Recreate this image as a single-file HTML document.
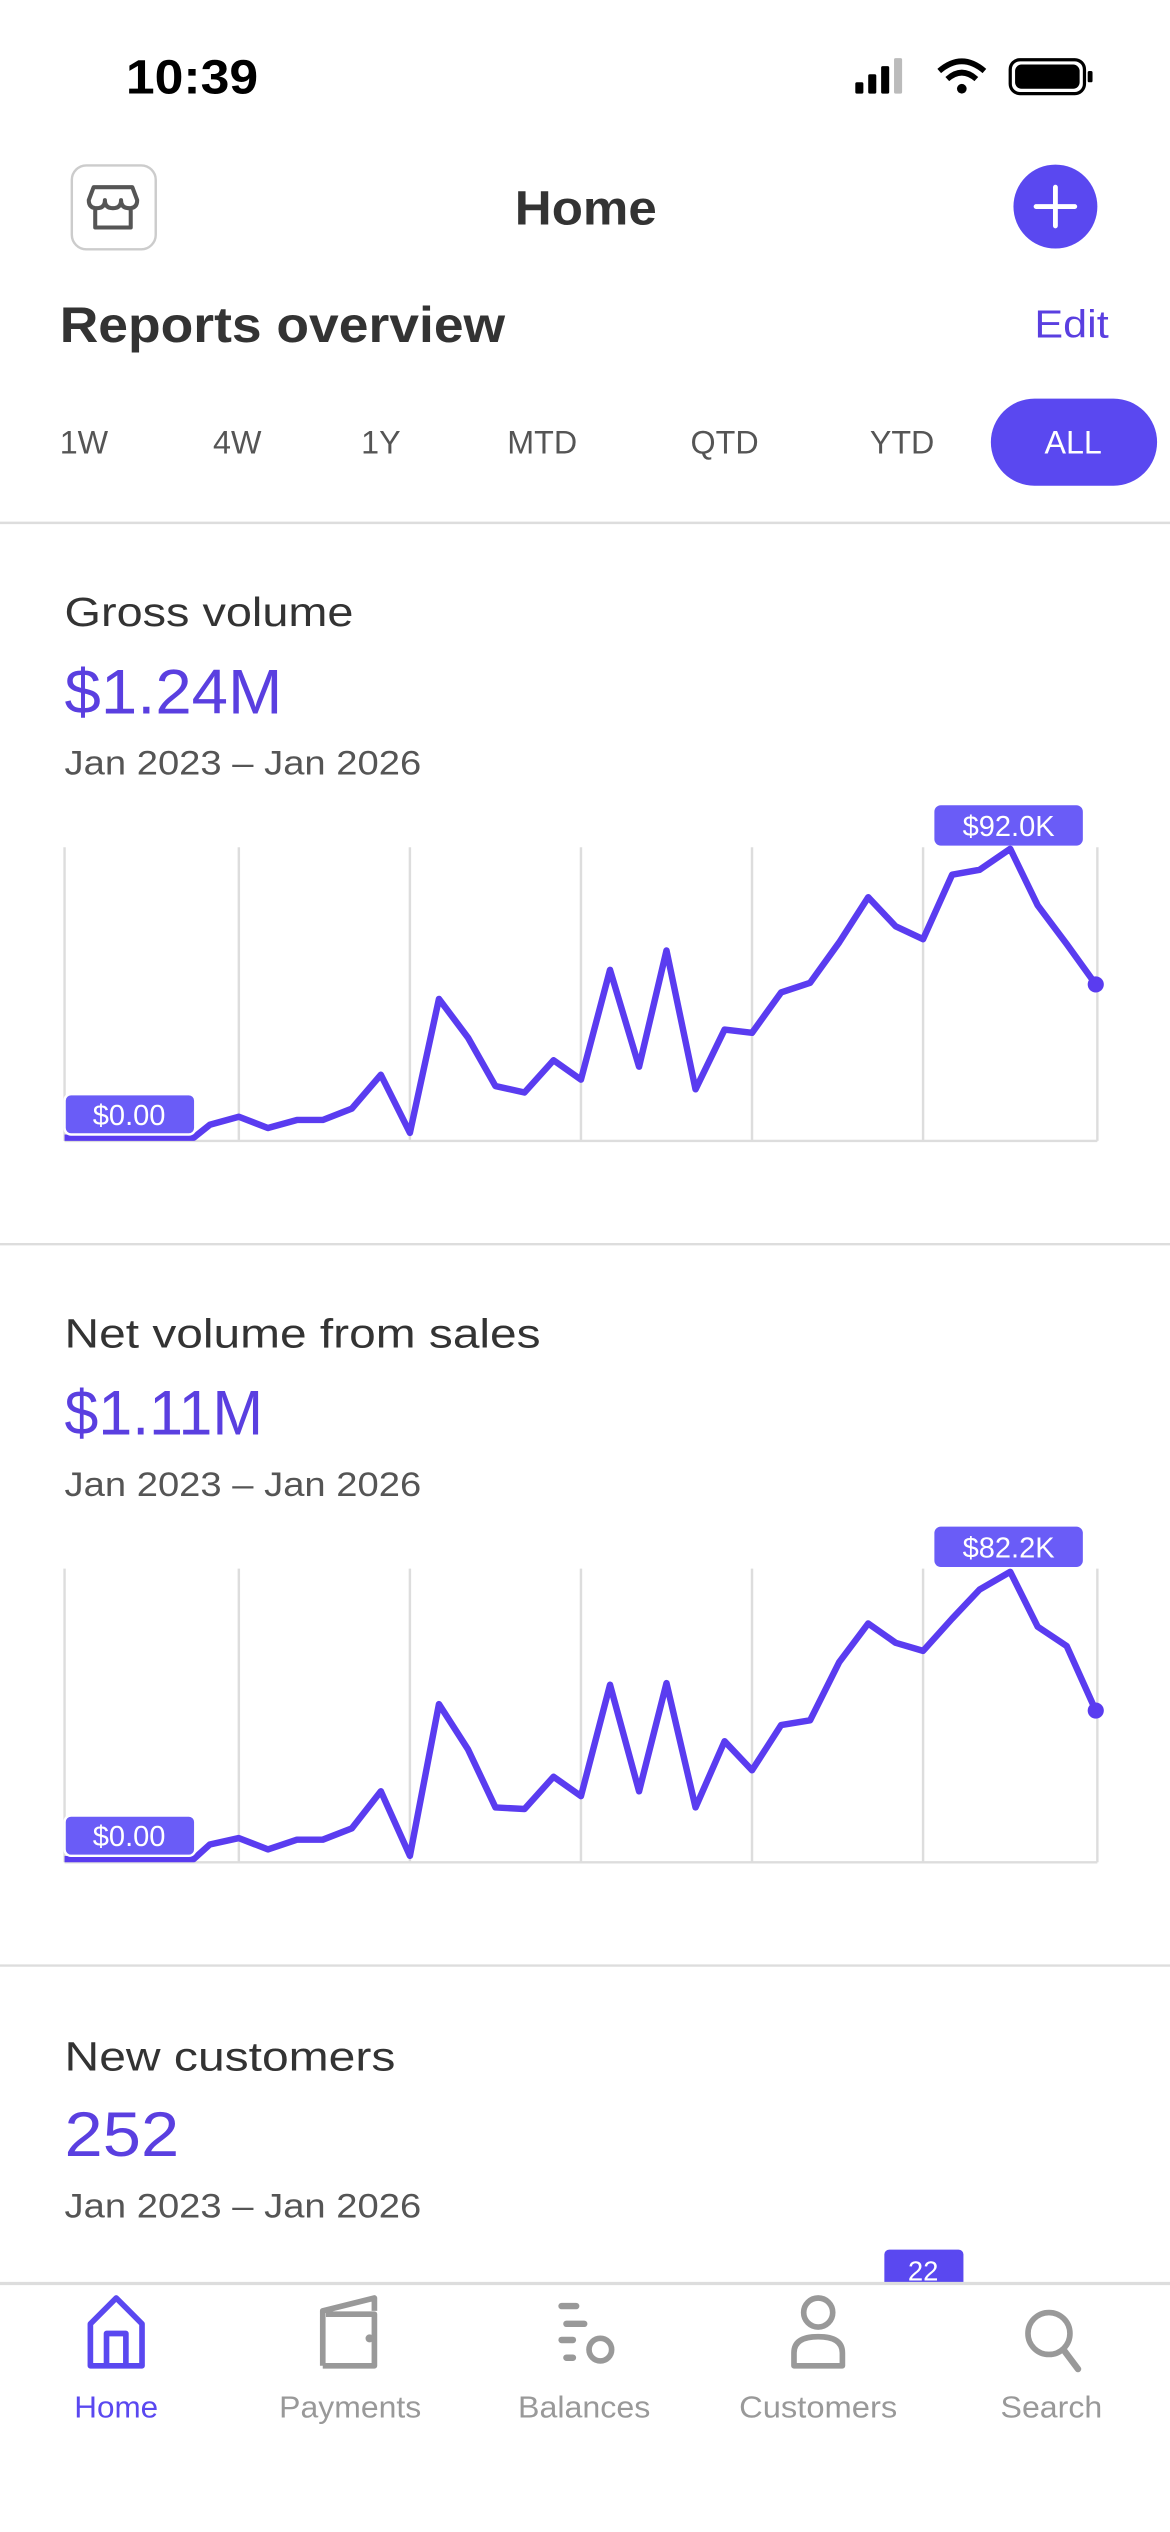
<!DOCTYPE html>
<html><head><meta charset="utf-8"><style>
html,body{margin:0;padding:0;background:#fff;}
svg{display:block;}
text{font-family:"Liberation Sans",sans-serif;}
</style></head><body>
<svg width="1170" height="2532" viewBox="0 0 725 1569" xmlns="http://www.w3.org/2000/svg">
<rect width="725" height="1569" fill="#fff"/>
<!-- status bar -->
<text x="78" y="58" font-size="30" font-weight="bold" fill="#000" textLength="82" lengthAdjust="spacingAndGlyphs">10:39</text>
<rect x="530" y="51" width="5" height="7" rx="1" fill="#000"/>
<rect x="538" y="46" width="5" height="12" rx="1" fill="#000"/>
<rect x="546" y="41" width="5" height="17" rx="1" fill="#000"/>
<rect x="554" y="36" width="5" height="22" rx="1" fill="#bbb"/>
<path d="M582 44 Q596 32 610 44" stroke="#000" stroke-width="3.5" fill="none"/>
<path d="M587 49 Q596 41 605 49" stroke="#000" stroke-width="3.5" fill="none"/>
<circle cx="596" cy="55" r="3" fill="#000"/>
<rect x="626" y="37" width="46" height="21" rx="6" fill="none" stroke="#000" stroke-width="2"/>
<rect x="629" y="40" width="40" height="15" rx="4" fill="#000"/>
<rect x="674" y="44" width="3" height="7" rx="1" fill="#000"/>
<!-- header -->
<rect x="44.5" y="102.5" width="52" height="52" rx="9" fill="#fff" stroke="#ccc" stroke-width="1.5"/>
<path d="M58 116 h24 l3 8 q0 5 -5 5 q-5 0 -5-5 q0 5 -5 5 q-5 0 -5-5 q0 5 -5 5 q-5 0 -5-5 z M59 129 v12 h22 v-12" stroke="#555" stroke-width="2.5" fill="none" stroke-linejoin="round"/>
<text x="319" y="139" font-size="30" font-weight="bold" fill="#333" textLength="88" lengthAdjust="spacingAndGlyphs">Home</text>
<circle cx="654" cy="128" r="26" fill="#5a48f0"/>
<path d="M654 116 v24 M642 128 h24" stroke="#fff" stroke-width="3" stroke-linecap="round"/>
<text x="37" y="212" font-size="31" font-weight="bold" fill="#333" textLength="276" lengthAdjust="spacingAndGlyphs">Reports overview</text>
<text x="641" y="209" font-size="24" fill="#5a3fe0" textLength="46" lengthAdjust="spacingAndGlyphs">Edit</text>
<!-- tabs -->
<g font-size="20" fill="#555" text-anchor="middle">
<text x="52" y="281">1W</text><text x="147" y="281">4W</text><text x="236" y="281">1Y</text>
<text x="336" y="281">MTD</text><text x="449" y="281">QTD</text><text x="559" y="281">YTD</text>
</g>
<rect x="614" y="247" width="103" height="54" rx="27" fill="#5a48f0"/>
<text x="665" y="281" font-size="20" fill="#fff" text-anchor="middle">ALL</text>
<line x1="0" y1="324" x2="725" y2="324" stroke="#ddd" stroke-width="1.5"/>
<!-- section 1 -->
<text x="40" y="388" font-size="25" font-weight="500" fill="#333" textLength="179" lengthAdjust="spacingAndGlyphs">Gross volume</text>
<text x="40" y="442" font-size="39" fill="#5a3fe0" textLength="135" lengthAdjust="spacingAndGlyphs">$1.24M</text>
<text x="40" y="480" font-size="21" fill="#555" textLength="221" lengthAdjust="spacingAndGlyphs">Jan 2023 – Jan 2026</text>
<g stroke="#ddd" stroke-width="1.5">
<line x1="40" y1="525" x2="40" y2="707"/><line x1="148" y1="525" x2="148" y2="707"/><line x1="254" y1="525" x2="254" y2="707"/><line x1="360" y1="525" x2="360" y2="707"/><line x1="466" y1="525" x2="466" y2="707"/><line x1="572" y1="525" x2="572" y2="707"/><line x1="680" y1="525" x2="680" y2="707"/>
<line x1="40" y1="707" x2="680" y2="707"/>
</g>
<polyline fill="none" stroke="#5a3cf0" stroke-width="4" stroke-linejoin="round" points="40,705 120,705 130,697 148,692 166,699 184,694 200,694 218,687 236,666 254,702 272,619 290,643 307,673 325,677 343,657 360,669 378,601 396,661 413,589 431,675 449,638 466,640 484,615 502,609 520,584 538,556 555,574 572,582 590,542 607,539 626,526 643,561 661,585 679,610"/>
<circle cx="679" cy="610" r="5" fill="#5a3cf0"/>
<rect x="579" y="499" width="92" height="25" rx="4" fill="#6a5cf7"/>
<text x="625" y="518" font-size="18" fill="#fff" text-anchor="middle">$92.0K</text>
<rect x="40" y="678" width="81" height="25" rx="4" fill="#6a5cf7" stroke="#fff" stroke-width="1.5"/>
<text x="80" y="697" font-size="18" fill="#fff" text-anchor="middle">$0.00</text>
<line x1="0" y1="771" x2="725" y2="771" stroke="#ddd" stroke-width="1.5"/>
<!-- section 2 -->
<text x="40" y="835" font-size="25" font-weight="500" fill="#333" textLength="295" lengthAdjust="spacingAndGlyphs">Net volume from sales</text>
<text x="40" y="889" font-size="39" fill="#5a3fe0" textLength="123" lengthAdjust="spacingAndGlyphs">$1.11M</text>
<text x="40" y="927" font-size="21" fill="#555" textLength="221" lengthAdjust="spacingAndGlyphs">Jan 2023 – Jan 2026</text>
<g stroke="#ddd" stroke-width="1.5">
<line x1="40" y1="972" x2="40" y2="1154"/><line x1="148" y1="972" x2="148" y2="1154"/><line x1="254" y1="972" x2="254" y2="1154"/><line x1="360" y1="972" x2="360" y2="1154"/><line x1="466" y1="972" x2="466" y2="1154"/><line x1="572" y1="972" x2="572" y2="1154"/><line x1="680" y1="972" x2="680" y2="1154"/>
<line x1="40" y1="1154" x2="680" y2="1154"/>
</g>
<polyline fill="none" stroke="#5a3cf0" stroke-width="4" stroke-linejoin="round" points="40,1152 120,1152 130,1143 148,1139 166,1146 184,1140 200,1140 218,1133 236,1110 254,1150 272,1056 290,1084 307,1120 325,1121 343,1101 360,1113 378,1044 396,1110 413,1043 431,1120 449,1079 466,1097 484,1069 502,1066 520,1030 538,1006 555,1018 572,1023 590,1003 607,985 626,974 643,1008 661,1020 679,1060"/>
<circle cx="679" cy="1060" r="5" fill="#5a3cf0"/>
<rect x="579" y="946" width="92" height="25" rx="4" fill="#6a5cf7"/>
<text x="625" y="965" font-size="18" fill="#fff" text-anchor="middle">$82.2K</text>
<rect x="40" y="1125" width="81" height="25" rx="4" fill="#6a5cf7" stroke="#fff" stroke-width="1.5"/>
<text x="80" y="1144" font-size="18" fill="#fff" text-anchor="middle">$0.00</text>
<line x1="0" y1="1218" x2="725" y2="1218" stroke="#ddd" stroke-width="1.5"/>
<!-- section 3 -->
<text x="40" y="1283" font-size="25" font-weight="500" fill="#333" textLength="205" lengthAdjust="spacingAndGlyphs">New customers</text>
<text x="40" y="1336" font-size="39" fill="#5a3fe0" textLength="71" lengthAdjust="spacingAndGlyphs">252</text>
<text x="40" y="1374" font-size="21" fill="#555" textLength="221" lengthAdjust="spacingAndGlyphs">Jan 2023 – Jan 2026</text>
<rect x="548" y="1394" width="49" height="24" rx="3" fill="#5a48f0"/>
<text x="572" y="1413" font-size="17" fill="#fff" text-anchor="middle">22</text>
<!-- tab bar -->
<rect x="0" y="1415" width="725" height="154" fill="#fff"/>
<line x1="0" y1="1415" x2="725" y2="1415" stroke="#ddd" stroke-width="2"/>
<path d="M56 1466 v-26 l16 -16 l16 16 v26 z M66 1466 v-20 h12 v20" stroke="#5a48f0" stroke-width="3.5" fill="none" stroke-linejoin="round"/>
<path d="M200 1466 v-34 l32 -8 v8 M202 1434 h30 v32 h-32" stroke="#999" stroke-width="3.5" fill="none" stroke-linejoin="round"/>
<circle cx="229" cy="1449" r="2.5" fill="#999"/>
<g stroke="#999" stroke-width="4" stroke-linecap="round"><line x1="348" y1="1429" x2="357" y2="1429"/><line x1="351" y1="1440" x2="362" y2="1440"/><line x1="348" y1="1450" x2="355" y2="1450"/><line x1="351" y1="1461" x2="355" y2="1461"/></g>
<circle cx="372" cy="1456" r="7" stroke="#999" stroke-width="3.5" fill="none"/>
<circle cx="507" cy="1433" r="9" stroke="#999" stroke-width="3.5" fill="none"/>
<path d="M492 1466 v-8 q0 -10 15 -10 q15 0 15 10 v8 z" stroke="#999" stroke-width="3.5" fill="none" stroke-linejoin="round"/>
<circle cx="650" cy="1446" r="13" stroke="#999" stroke-width="3.5" fill="none"/>
<line x1="659" y1="1456" x2="668" y2="1468" stroke="#999" stroke-width="4" stroke-linecap="round"/>
<g font-size="19" fill="#999">
<text x="46" y="1498" fill="#5a48f0" textLength="52" lengthAdjust="spacingAndGlyphs">Home</text>
<text x="173" y="1498" textLength="88" lengthAdjust="spacingAndGlyphs">Payments</text>
<text x="321" y="1498" textLength="82" lengthAdjust="spacingAndGlyphs">Balances</text>
<text x="458" y="1498" textLength="98" lengthAdjust="spacingAndGlyphs">Customers</text>
<text x="620" y="1498" textLength="63" lengthAdjust="spacingAndGlyphs">Search</text>
</g>
</svg>
</body></html>
